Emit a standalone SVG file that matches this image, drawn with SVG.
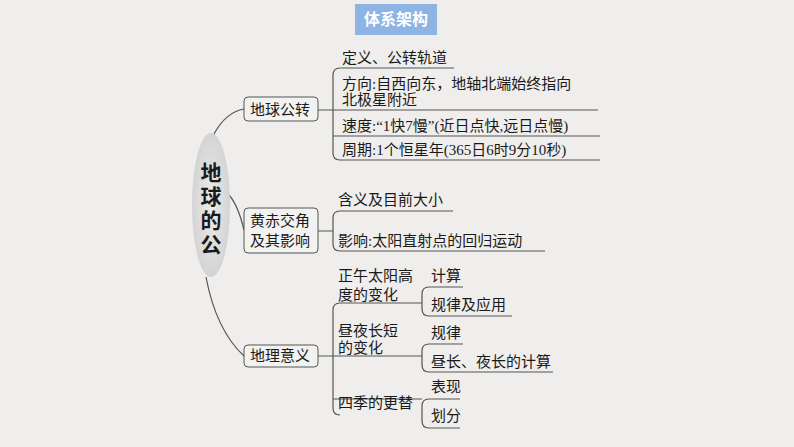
<svg xmlns="http://www.w3.org/2000/svg" width="794" height="447" viewBox="0 0 794 447">
<defs>
<style>
text{font-family:"Liberation Serif","Noto Sans CJK SC",serif;font-size:15px;fill:#1a1a1a}
.box{fill:#f2f2f0;stroke:#555;stroke-width:1}
.ln{fill:none;stroke:#555;stroke-width:1.2}
</style>
<radialGradient id="eg" cx="0.5" cy="0.5" r="0.6"><stop offset="0" stop-color="#ececec"/><stop offset="1" stop-color="#cfcfcf"/></radialGradient>
</defs>
<rect width="794" height="447" fill="#efeeec"/>
<g id="title"><rect x="355" y="4" width="82" height="31" fill="#8eb4e3"/><text x="396" y="25" text-anchor="middle" style="fill:#fff;font-weight:bold;font-size:16px">体系架构</text></g>
<g id="connectors" class="ln">
<path d="M214,134 Q226,112 244,109"/>
<path d="M229,195 Q238,205 244,230"/>
<path d="M206,277 Q216,330 244,356"/>
<path d="M318,110 H598 M454,68 H340 Q333,68 333,75 V153 Q333,160 340,160 H600 M333,136 H600"/>
<path d="M318,231 H333 M453,211 H340 Q333,211 333,218 V244 Q333,251 340,251 H545"/>
<path d="M318,356 H422 M422,303 H340 Q333,303 333,310 V408 Q333,415 340,415 M333,399 H422"/>
<path d="M463,287 H429 Q422,287 422,294 V309 Q422,316 429,316 H512 M422,301 V303"/>
<path d="M463,344 H429 Q422,344 422,351 V365 Q422,372 429,372 H553"/>
<path d="M460,399 H429 Q422,399 422,406 V421 Q422,428 429,428 H460"/>
</g>
<g id="root"><ellipse cx="211" cy="205" rx="19" ry="72" fill="url(#eg)"/>
<text x="211" y="180" text-anchor="middle" style="font-size:21px;font-weight:bold">地</text>
<text x="211" y="204" text-anchor="middle" style="font-size:21px;font-weight:bold">球</text>
<text x="211" y="228" text-anchor="middle" style="font-size:21px;font-weight:bold">的</text>
<text x="211" y="252" text-anchor="middle" style="font-size:21px;font-weight:bold">公</text>
<text x="211" y="263" text-anchor="middle" style="font-size:21px;font-weight:bold" display="none"></text>
</g>
<g id="n1"><rect class="box" x="244" y="97" width="74" height="24" rx="4"/><text x="250" y="115">地球公转</text></g>
<g id="n1a"><text x="342" y="63">定义、公转轨道</text></g>
<g id="n1b"><text x="342" y="89">方向:自西向东，地轴北端始终指向</text><text x="342" y="105">北极星附近</text></g>
<g id="n1c"><text x="342" y="131">速度:“1快7慢”(近日点快,远日点慢)</text></g>
<g id="n1d"><text x="342" y="155">周期:1个恒星年(365日6时9分10秒)</text></g>
<g id="n2"><rect class="box" x="244" y="208" width="74" height="45" rx="4"/><text x="250" y="226">黄赤交角</text><text x="250" y="246">及其影响</text></g>
<g id="n2a"><text x="338" y="205">含义及目前大小</text></g>
<g id="n2b"><text x="338" y="246">影响:太阳直射点的回归运动</text></g>
<g id="n3"><rect class="box" x="244" y="345" width="74" height="22" rx="4"/><text x="250" y="361">地理意义</text></g>
<g id="n3a"><text x="338" y="281">正午太阳高</text><text x="338" y="300">度的变化</text></g>
<g id="n3a1"><text x="431" y="281">计算</text></g>
<g id="n3a2"><text x="431" y="310">规律及应用</text></g>
<g id="n3b"><text x="338" y="336">昼夜长短</text><text x="338" y="353">的变化</text></g>
<g id="n3b1"><text x="431" y="338">规律</text></g>
<g id="n3b2"><text x="431" y="367">昼长、夜长的计算</text></g>
<g id="n3c"><text x="338" y="408">四季的更替</text></g>
<g id="n3c1"><text x="431" y="392">表现</text></g>
<g id="n3c2"><text x="431" y="421">划分</text></g>
</svg>
